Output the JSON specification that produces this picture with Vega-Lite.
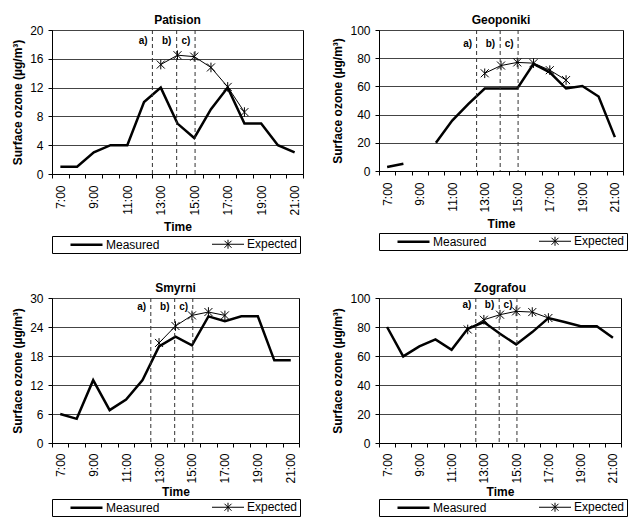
{
  "$schema": "https://vega.github.io/schema/vega-lite/v6.json",
  "padding": {"left": 11, "top": 13, "right": 0, "bottom": 0},
  "config": {
    "font": "Liberation Sans",
    "view": {"stroke": "black", "strokeWidth": 1},
    "axis": {"labelFont": "Liberation Sans", "labelFontSize": 12, "labelColor": "black", "titleFont": "Liberation Sans", "titleFontSize": 12, "titleFontWeight": "bold", "titleColor": "black", "domainColor": "black", "tickColor": "black", "tickSize": 4, "gridColor": "#444", "gridOpacity": 1},
    "title": {"font": "Liberation Sans", "fontSize": 12, "fontWeight": "bold", "color": "black", "offset": -3},
    "legend": {"labelFont": "Liberation Sans", "labelFontSize": 12, "labelColor": "black", "strokeColor": "black", "padding": 2, "offset": 3, "orient": "bottom", "direction": "horizontal", "symbolSize": 100, "symbolOpacity": 1, "symbolStrokeColor": "black", "symbolFillColor": "transparent", "labelOffset": 13, "symbolOffset": 26, "columnPadding": 36, "title": null}
  },
  "datasets": {
    "ozone": [
      {"station": "Patision", "series": "Measured", "hour": 7, "value": 1},
      {"station": "Patision", "series": "Measured", "hour": 8, "value": 1},
      {"station": "Patision", "series": "Measured", "hour": 9, "value": 3},
      {"station": "Patision", "series": "Measured", "hour": 10, "value": 4},
      {"station": "Patision", "series": "Measured", "hour": 11, "value": 4},
      {"station": "Patision", "series": "Measured", "hour": 12, "value": 10},
      {"station": "Patision", "series": "Measured", "hour": 13, "value": 12},
      {"station": "Patision", "series": "Measured", "hour": 14, "value": 7},
      {"station": "Patision", "series": "Measured", "hour": 15, "value": 5},
      {"station": "Patision", "series": "Measured", "hour": 16, "value": 9},
      {"station": "Patision", "series": "Measured", "hour": 17, "value": 12},
      {"station": "Patision", "series": "Measured", "hour": 18, "value": 7},
      {"station": "Patision", "series": "Measured", "hour": 19, "value": 7},
      {"station": "Patision", "series": "Measured", "hour": 20, "value": 4},
      {"station": "Patision", "series": "Measured", "hour": 21, "value": 3},
      {"station": "Patision", "series": "Expected", "hour": 13, "value": 15.2},
      {"station": "Patision", "series": "Expected", "hour": 14, "value": 16.5},
      {"station": "Patision", "series": "Expected", "hour": 15, "value": 16.3},
      {"station": "Patision", "series": "Expected", "hour": 16, "value": 14.8},
      {"station": "Patision", "series": "Expected", "hour": 17, "value": 12.1},
      {"station": "Patision", "series": "Expected", "hour": 18, "value": 8.6},
      {"station": "Geoponiki", "series": "Measured", "hour": 7, "value": 2.8},
      {"station": "Geoponiki", "series": "Measured", "hour": 8, "value": 5.2},
      {"station": "Geoponiki", "series": "Measured", "hour": 9, "value": null},
      {"station": "Geoponiki", "series": "Measured", "hour": 10, "value": 20},
      {"station": "Geoponiki", "series": "Measured", "hour": 11, "value": 35.8},
      {"station": "Geoponiki", "series": "Measured", "hour": 12, "value": 47.6},
      {"station": "Geoponiki", "series": "Measured", "hour": 13, "value": 58.5},
      {"station": "Geoponiki", "series": "Measured", "hour": 14, "value": 58.5},
      {"station": "Geoponiki", "series": "Measured", "hour": 15, "value": 58.5},
      {"station": "Geoponiki", "series": "Measured", "hour": 16, "value": 76},
      {"station": "Geoponiki", "series": "Measured", "hour": 17, "value": 70},
      {"station": "Geoponiki", "series": "Measured", "hour": 18, "value": 58.5},
      {"station": "Geoponiki", "series": "Measured", "hour": 19, "value": 60.3},
      {"station": "Geoponiki", "series": "Measured", "hour": 20, "value": 52.8},
      {"station": "Geoponiki", "series": "Measured", "hour": 21, "value": 24},
      {"station": "Geoponiki", "series": "Expected", "hour": 13, "value": 69.3},
      {"station": "Geoponiki", "series": "Expected", "hour": 14, "value": 74.8},
      {"station": "Geoponiki", "series": "Expected", "hour": 15, "value": 77},
      {"station": "Geoponiki", "series": "Expected", "hour": 16, "value": 76.5},
      {"station": "Geoponiki", "series": "Expected", "hour": 17, "value": 71.5},
      {"station": "Geoponiki", "series": "Expected", "hour": 18, "value": 64.5},
      {"station": "Smyrni", "series": "Measured", "hour": 7, "value": 6},
      {"station": "Smyrni", "series": "Measured", "hour": 8, "value": 5},
      {"station": "Smyrni", "series": "Measured", "hour": 9, "value": 13},
      {"station": "Smyrni", "series": "Measured", "hour": 10, "value": 6.8},
      {"station": "Smyrni", "series": "Measured", "hour": 11, "value": 9},
      {"station": "Smyrni", "series": "Measured", "hour": 12, "value": 13},
      {"station": "Smyrni", "series": "Measured", "hour": 13, "value": 20},
      {"station": "Smyrni", "series": "Measured", "hour": 14, "value": 22},
      {"station": "Smyrni", "series": "Measured", "hour": 15, "value": 20.2},
      {"station": "Smyrni", "series": "Measured", "hour": 16, "value": 26.2},
      {"station": "Smyrni", "series": "Measured", "hour": 17, "value": 25.2},
      {"station": "Smyrni", "series": "Measured", "hour": 18, "value": 26.2},
      {"station": "Smyrni", "series": "Measured", "hour": 19, "value": 26.2},
      {"station": "Smyrni", "series": "Measured", "hour": 20, "value": 17.1},
      {"station": "Smyrni", "series": "Measured", "hour": 21, "value": 17.1},
      {"station": "Smyrni", "series": "Expected", "hour": 13, "value": 20.7},
      {"station": "Smyrni", "series": "Expected", "hour": 14, "value": 24.2},
      {"station": "Smyrni", "series": "Expected", "hour": 15, "value": 26.4},
      {"station": "Smyrni", "series": "Expected", "hour": 16, "value": 27.1},
      {"station": "Smyrni", "series": "Expected", "hour": 17, "value": 26.4},
      {"station": "Zografou", "series": "Measured", "hour": 7, "value": 80},
      {"station": "Zografou", "series": "Measured", "hour": 8, "value": 59.7},
      {"station": "Zografou", "series": "Measured", "hour": 9, "value": 66.6},
      {"station": "Zografou", "series": "Measured", "hour": 10, "value": 71.4},
      {"station": "Zografou", "series": "Measured", "hour": 11, "value": 64.3},
      {"station": "Zografou", "series": "Measured", "hour": 12, "value": 78.8},
      {"station": "Zografou", "series": "Measured", "hour": 13, "value": 83.4},
      {"station": "Zografou", "series": "Measured", "hour": 14, "value": 75.3},
      {"station": "Zografou", "series": "Measured", "hour": 15, "value": 68},
      {"station": "Zografou", "series": "Measured", "hour": 16, "value": 76.5},
      {"station": "Zografou", "series": "Measured", "hour": 17, "value": 86.2},
      {"station": "Zografou", "series": "Measured", "hour": 18, "value": 83.4},
      {"station": "Zografou", "series": "Measured", "hour": 19, "value": 80.6},
      {"station": "Zografou", "series": "Measured", "hour": 20, "value": 80.6},
      {"station": "Zografou", "series": "Measured", "hour": 21, "value": 72.6},
      {"station": "Zografou", "series": "Expected", "hour": 12, "value": 78.3},
      {"station": "Zografou", "series": "Expected", "hour": 13, "value": 85},
      {"station": "Zografou", "series": "Expected", "hour": 14, "value": 88.5},
      {"station": "Zografou", "series": "Expected", "hour": 15, "value": 90.8},
      {"station": "Zografou", "series": "Expected", "hour": 16, "value": 90.3},
      {"station": "Zografou", "series": "Expected", "hour": 17, "value": 86.2}
    ],
    "periods": [
      {"label": "a)", "boundary": 12.5, "labelAt": 11.95},
      {"label": "b)", "boundary": 13.95, "labelAt": 13.35},
      {"label": "c)", "boundary": 15.05, "labelAt": 14.5}
    ]
  },
  "columns": 2,
  "spacing": {"row": 27, "column": 27},
  "resolve": {"scale": {"shape": "independent", "strokeWidth": "independent"}, "legend": {"shape": "independent", "strokeWidth": "independent"}},
  "concat": [
    {
      "title": "Patision",
      "width": 251, "height": 144,
      "data": {"name": "ozone"},
      "transform": [{"filter": "datum.station === 'Patision'"}],
      "encoding": {
        "x": {"field": "hour", "type": "quantitative", "scale": {"domain": [6.5, 21.5], "nice": false, "zero": false},
              "axis": {"title": "Time", "values": [6.5,7.5,8.5,9.5,10.5,11.5,12.5,13.5,14.5,15.5,16.5,17.5,18.5,19.5,20.5,21.5], "labelOffset": 8.37, "labelAngle": -90, "labelExpr": "(datum.value + 0.5) % 2 === 1 ? (datum.value + 0.5) + ':00' : ''", "labelPadding": 7, "titlePadding": 6, "grid": false}}
      },
      "layer": [
        {"transform": [{"filter": "datum.series === 'Measured'"}],
         "mark": {"type": "line", "color": "black", "strokeWidth": 2.5, "invalid": "break-paths-filter-domains"},
         "encoding": {"y": {"field": "value", "type": "quantitative", "scale": {"domain": [0, 20], "nice": false}, "axis": {"title": "Surface ozone (µg/m³)", "values": [0, 4, 8, 12, 16, 20], "grid": true, "labelPadding": 5, "titlePadding": 5}}}},
        {"transform": [{"filter": "datum.series === 'Expected'"}],
         "mark": {"type": "line", "color": "black", "strokeWidth": 1},
         "encoding": {"y": {"field": "value", "type": "quantitative", "scale": {"domain": [0, 20], "nice": false}, "axis": {"title": "Surface ozone (µg/m³)", "values": [0, 4, 8, 12, 16, 20], "grid": true, "labelPadding": 5, "titlePadding": 5}}}},
        {"transform": [{"filter": "datum.series === 'Expected'"}],
         "mark": {"type": "point", "color": "black", "filled": false, "strokeWidth": 1, "size": 64, "opacity": 1, "shape": "M-1,-1L1,1M-1,1L1,-1M0,-1.2V1.2"},
         "encoding": {"y": {"field": "value", "type": "quantitative", "scale": {"domain": [0, 20], "nice": false}, "axis": {"title": "Surface ozone (µg/m³)", "values": [0, 4, 8, 12, 16, 20], "grid": true, "labelPadding": 5, "titlePadding": 5}}}},
        {"mark": {"type": "point", "color": "black", "filled": false, "opacity": 0},
         "encoding": {
           "y": {"field": "value", "type": "quantitative", "scale": {"domain": [0, 20], "nice": false}, "axis": {"title": "Surface ozone (µg/m³)", "values": [0, 4, 8, 12, 16, 20], "grid": true, "labelPadding": 5, "titlePadding": 5}},
           "shape": {"field": "series", "type": "nominal", "scale": {"domain": ["Measured", "Expected"], "range": ["M-3.2,0H3.2", "M-3.2,0H3.2M-0.7,-0.7L0.7,0.7M-0.7,0.7L0.7,-0.7M0,-0.9V0.9"]}},
           "strokeWidth": {"field": "series", "type": "nominal", "scale": {"domain": ["Measured", "Expected"], "range": [2.5, 1]}}}},
        {"data": {"name": "periods"}, "mark": {"type": "rule", "color": "#333", "strokeDash": [4, 3], "strokeWidth": 1},
         "encoding": {"x": {"field": "boundary", "type": "quantitative"}}},
        {"data": {"name": "periods"}, "mark": {"type": "text", "fontSize": 10, "fontWeight": "bold", "color": "black"},
         "encoding": {"x": {"field": "labelAt", "type": "quantitative"},
                      "y": {"datum": 18.5, "type": "quantitative", "scale": {"domain": [0, 20], "nice": false}, "axis": {"title": "Surface ozone (µg/m³)", "values": [0, 4, 8, 12, 16, 20], "grid": true, "labelPadding": 5, "titlePadding": 5}},
                      "text": {"field": "label"}}}
      ]
    },
    {
      "title": "Geoponiki",
      "width": 244, "height": 141,
      "data": {"name": "ozone"},
      "transform": [{"filter": "datum.station === 'Geoponiki'"}],
      "encoding": {
        "x": {"field": "hour", "type": "quantitative", "scale": {"domain": [6.5, 21.5], "nice": false, "zero": false},
              "axis": {"title": "Time", "values": [6.5,7.5,8.5,9.5,10.5,11.5,12.5,13.5,14.5,15.5,16.5,17.5,18.5,19.5,20.5,21.5], "labelOffset": 8.13, "labelAngle": -90, "labelExpr": "(datum.value + 0.5) % 2 === 1 ? (datum.value + 0.5) + ':00' : ''", "labelPadding": 7, "titlePadding": 6, "grid": false}}
      },
      "layer": [
        {"transform": [{"filter": "datum.series === 'Measured'"}],
         "mark": {"type": "line", "color": "black", "strokeWidth": 2.5, "invalid": "break-paths-filter-domains"},
         "encoding": {"y": {"field": "value", "type": "quantitative", "scale": {"domain": [0, 100], "nice": false}, "axis": {"title": "Surface ozone (µg/m³)", "values": [0, 20, 40, 60, 80, 100], "grid": true, "labelPadding": 5, "titlePadding": 5}}}},
        {"transform": [{"filter": "datum.series === 'Expected'"}],
         "mark": {"type": "line", "color": "black", "strokeWidth": 1},
         "encoding": {"y": {"field": "value", "type": "quantitative", "scale": {"domain": [0, 100], "nice": false}, "axis": {"title": "Surface ozone (µg/m³)", "values": [0, 20, 40, 60, 80, 100], "grid": true, "labelPadding": 5, "titlePadding": 5}}}},
        {"transform": [{"filter": "datum.series === 'Expected'"}],
         "mark": {"type": "point", "color": "black", "filled": false, "strokeWidth": 1, "size": 64, "opacity": 1, "shape": "M-1,-1L1,1M-1,1L1,-1M0,-1.2V1.2"},
         "encoding": {"y": {"field": "value", "type": "quantitative", "scale": {"domain": [0, 100], "nice": false}, "axis": {"title": "Surface ozone (µg/m³)", "values": [0, 20, 40, 60, 80, 100], "grid": true, "labelPadding": 5, "titlePadding": 5}}}},
        {"transform": [{"filter": "datum.value !== null"}],
         "mark": {"type": "point", "color": "black", "filled": false, "opacity": 0},
         "encoding": {
           "y": {"field": "value", "type": "quantitative", "scale": {"domain": [0, 100], "nice": false}, "axis": {"title": "Surface ozone (µg/m³)", "values": [0, 20, 40, 60, 80, 100], "grid": true, "labelPadding": 5, "titlePadding": 5}},
           "shape": {"field": "series", "type": "nominal", "scale": {"domain": ["Measured", "Expected"], "range": ["M-3.2,0H3.2", "M-3.2,0H3.2M-0.7,-0.7L0.7,0.7M-0.7,0.7L0.7,-0.7M0,-0.9V0.9"]}},
           "strokeWidth": {"field": "series", "type": "nominal", "scale": {"domain": ["Measured", "Expected"], "range": [2.5, 1]}}}},
        {"data": {"name": "periods"}, "mark": {"type": "rule", "color": "#333", "strokeDash": [4, 3], "strokeWidth": 1},
         "encoding": {"x": {"field": "boundary", "type": "quantitative"}}},
        {"data": {"name": "periods"}, "mark": {"type": "text", "fontSize": 10, "fontWeight": "bold", "color": "black"},
         "encoding": {"x": {"field": "labelAt", "type": "quantitative"},
                      "y": {"datum": 90.3, "type": "quantitative", "scale": {"domain": [0, 100], "nice": false}, "axis": {"title": "Surface ozone (µg/m³)", "values": [0, 20, 40, 60, 80, 100], "grid": true, "labelPadding": 5, "titlePadding": 5}},
                      "text": {"field": "label"}}}
      ]
    },
    {
      "title": "Smyrni",
      "width": 247, "height": 145,
      "data": {"name": "ozone"},
      "transform": [{"filter": "datum.station === 'Smyrni'"}],
      "encoding": {
        "x": {"field": "hour", "type": "quantitative", "scale": {"domain": [6.5, 21.5], "nice": false, "zero": false},
              "axis": {"title": "Time", "values": [6.5,7.5,8.5,9.5,10.5,11.5,12.5,13.5,14.5,15.5,16.5,17.5,18.5,19.5,20.5,21.5], "labelOffset": 8.23, "labelAngle": -90, "labelExpr": "(datum.value + 0.5) % 2 === 1 ? (datum.value + 0.5) + ':00' : ''", "labelPadding": 6, "titlePadding": 3, "grid": false}}
      },
      "layer": [
        {"transform": [{"filter": "datum.series === 'Measured'"}],
         "mark": {"type": "line", "color": "black", "strokeWidth": 2.5, "invalid": "break-paths-filter-domains"},
         "encoding": {"y": {"field": "value", "type": "quantitative", "scale": {"domain": [0, 30], "nice": false}, "axis": {"title": "Surface ozone (µg/m³)", "values": [0, 6, 12, 18, 24, 30], "grid": true, "labelPadding": 5, "titlePadding": 5}}}},
        {"transform": [{"filter": "datum.series === 'Expected'"}],
         "mark": {"type": "line", "color": "black", "strokeWidth": 1},
         "encoding": {"y": {"field": "value", "type": "quantitative", "scale": {"domain": [0, 30], "nice": false}, "axis": {"title": "Surface ozone (µg/m³)", "values": [0, 6, 12, 18, 24, 30], "grid": true, "labelPadding": 5, "titlePadding": 5}}}},
        {"transform": [{"filter": "datum.series === 'Expected'"}],
         "mark": {"type": "point", "color": "black", "filled": false, "strokeWidth": 1, "size": 64, "opacity": 1, "shape": "M-1,-1L1,1M-1,1L1,-1M0,-1.2V1.2"},
         "encoding": {"y": {"field": "value", "type": "quantitative", "scale": {"domain": [0, 30], "nice": false}, "axis": {"title": "Surface ozone (µg/m³)", "values": [0, 6, 12, 18, 24, 30], "grid": true, "labelPadding": 5, "titlePadding": 5}}}},
        {"mark": {"type": "point", "color": "black", "filled": false, "opacity": 0},
         "encoding": {
           "y": {"field": "value", "type": "quantitative", "scale": {"domain": [0, 30], "nice": false}, "axis": {"title": "Surface ozone (µg/m³)", "values": [0, 6, 12, 18, 24, 30], "grid": true, "labelPadding": 5, "titlePadding": 5}},
           "shape": {"field": "series", "type": "nominal", "scale": {"domain": ["Measured", "Expected"], "range": ["M-3.2,0H3.2", "M-3.2,0H3.2M-0.7,-0.7L0.7,0.7M-0.7,0.7L0.7,-0.7M0,-0.9V0.9"]}, "legend": {"offset": 1}},
           "strokeWidth": {"field": "series", "type": "nominal", "scale": {"domain": ["Measured", "Expected"], "range": [2.5, 1]}, "legend": {"offset": 1}}}},
        {"data": {"name": "periods"}, "mark": {"type": "rule", "color": "#333", "strokeDash": [4, 3], "strokeWidth": 1},
         "encoding": {"x": {"field": "boundary", "type": "quantitative"}}},
        {"data": {"name": "periods"}, "mark": {"type": "text", "fontSize": 10, "fontWeight": "bold", "color": "black"},
         "encoding": {"x": {"field": "labelAt", "type": "quantitative"},
                      "y": {"datum": 28.2, "type": "quantitative", "scale": {"domain": [0, 30], "nice": false}, "axis": {"title": "Surface ozone (µg/m³)", "values": [0, 6, 12, 18, 24, 30], "grid": true, "labelPadding": 5, "titlePadding": 5}},
                      "text": {"field": "label"}}}
      ]
    },
    {
      "title": "Zografou",
      "width": 242, "height": 145,
      "data": {"name": "ozone"},
      "transform": [{"filter": "datum.station === 'Zografou'"}],
      "encoding": {
        "x": {"field": "hour", "type": "quantitative", "scale": {"domain": [6.5, 21.5], "nice": false, "zero": false},
              "axis": {"title": "Time", "values": [6.5,7.5,8.5,9.5,10.5,11.5,12.5,13.5,14.5,15.5,16.5,17.5,18.5,19.5,20.5,21.5], "labelOffset": 8.07, "labelAngle": -90, "labelExpr": "(datum.value + 0.5) % 2 === 1 ? (datum.value + 0.5) + ':00' : ''", "labelPadding": 6, "titlePadding": 3, "grid": false}}
      },
      "layer": [
        {"transform": [{"filter": "datum.series === 'Measured'"}],
         "mark": {"type": "line", "color": "black", "strokeWidth": 2.5, "invalid": "break-paths-filter-domains"},
         "encoding": {"y": {"field": "value", "type": "quantitative", "scale": {"domain": [0, 100], "nice": false}, "axis": {"title": "Surface ozone (µg/m³)", "values": [0, 20, 40, 60, 80, 100], "grid": true, "labelPadding": 5, "titlePadding": 5}}}},
        {"transform": [{"filter": "datum.series === 'Expected'"}],
         "mark": {"type": "line", "color": "black", "strokeWidth": 1},
         "encoding": {"y": {"field": "value", "type": "quantitative", "scale": {"domain": [0, 100], "nice": false}, "axis": {"title": "Surface ozone (µg/m³)", "values": [0, 20, 40, 60, 80, 100], "grid": true, "labelPadding": 5, "titlePadding": 5}}}},
        {"transform": [{"filter": "datum.series === 'Expected'"}],
         "mark": {"type": "point", "color": "black", "filled": false, "strokeWidth": 1, "size": 64, "opacity": 1, "shape": "M-1,-1L1,1M-1,1L1,-1M0,-1.2V1.2"},
         "encoding": {"y": {"field": "value", "type": "quantitative", "scale": {"domain": [0, 100], "nice": false}, "axis": {"title": "Surface ozone (µg/m³)", "values": [0, 20, 40, 60, 80, 100], "grid": true, "labelPadding": 5, "titlePadding": 5}}}},
        {"mark": {"type": "point", "color": "black", "filled": false, "opacity": 0},
         "encoding": {
           "y": {"field": "value", "type": "quantitative", "scale": {"domain": [0, 100], "nice": false}, "axis": {"title": "Surface ozone (µg/m³)", "values": [0, 20, 40, 60, 80, 100], "grid": true, "labelPadding": 5, "titlePadding": 5}},
           "shape": {"field": "series", "type": "nominal", "scale": {"domain": ["Measured", "Expected"], "range": ["M-3.2,0H3.2", "M-3.2,0H3.2M-0.7,-0.7L0.7,0.7M-0.7,0.7L0.7,-0.7M0,-0.9V0.9"]}, "legend": {"offset": 1}},
           "strokeWidth": {"field": "series", "type": "nominal", "scale": {"domain": ["Measured", "Expected"], "range": [2.5, 1]}, "legend": {"offset": 1}}}},
        {"data": {"name": "periods"}, "mark": {"type": "rule", "color": "#333", "strokeDash": [4, 3], "strokeWidth": 1},
         "encoding": {"x": {"field": "boundary", "type": "quantitative"}}},
        {"data": {"name": "periods"}, "mark": {"type": "text", "fontSize": 10, "fontWeight": "bold", "color": "black"},
         "encoding": {"x": {"field": "labelAt", "type": "quantitative"},
                      "y": {"datum": 94.9, "type": "quantitative", "scale": {"domain": [0, 100], "nice": false}, "axis": {"title": "Surface ozone (µg/m³)", "values": [0, 20, 40, 60, 80, 100], "grid": true, "labelPadding": 5, "titlePadding": 5}},
                      "text": {"field": "label"}}}
      ]
    }
  ]
}
